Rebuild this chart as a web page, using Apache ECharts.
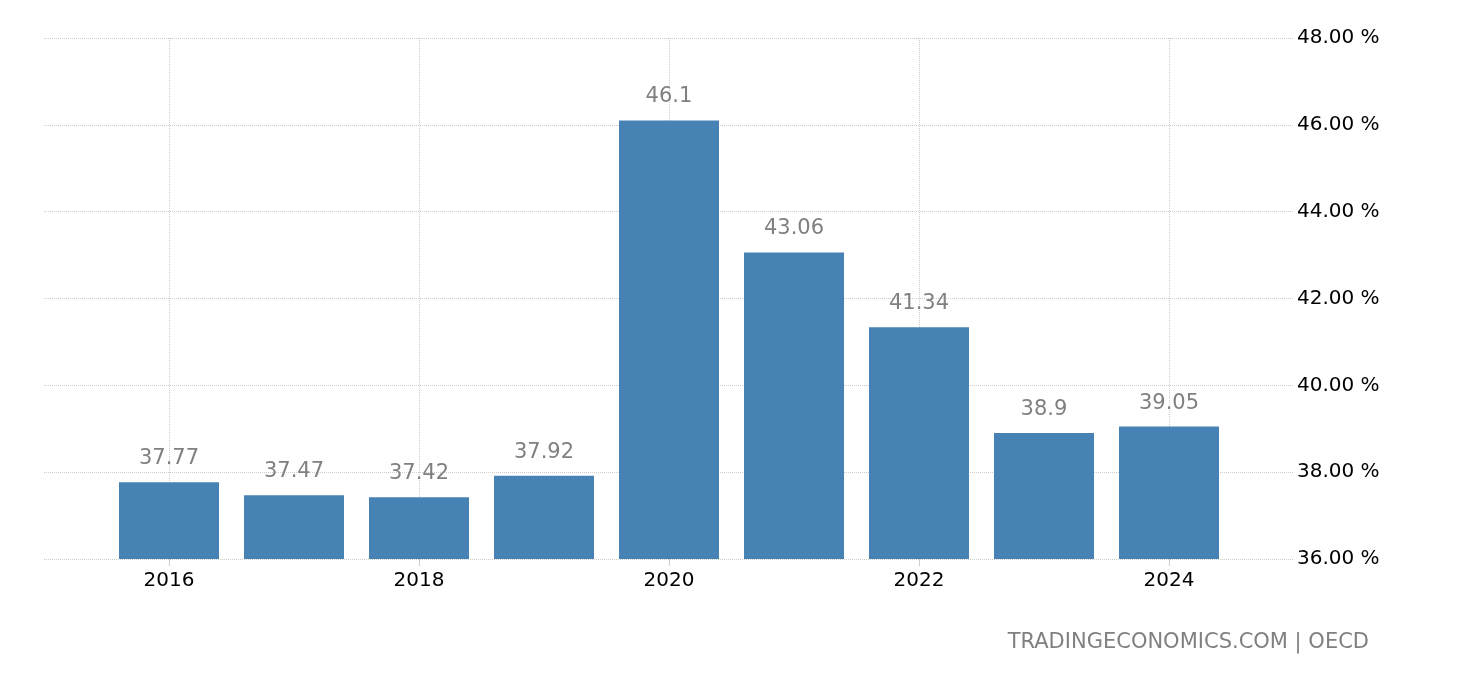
<!DOCTYPE html>
<html>
<head>
<meta charset="utf-8">
<script src="https://cdn.jsdelivr.net/npm/echarts@6/dist/echarts.min.js"></script>
<style>
  html, body { margin: 0; padding: 0; background: #fff; }
  #chart { width: 1460px; height: 680px; }
</style>
</head>
<body>
<div id="chart"></div>
<script>
// years and values
const years = ['2016', '2017', '2018', '2019', '2020', '2021', '2022', '2023', '2024'];
const values = [37.77, 37.47, 37.42, 37.92, 46.1, 43.06, 41.34, 38.9, 39.05];
const yTicks = { min: 36, max: 48, interval: 2 };
const source = 'TRADINGECONOMICS.COM | OECD';

// pad one empty slot on each side so the plot extends half a band past the bars
const axisYears = [String(+years[0] - 1), ...years, String(+years[years.length - 1] + 1)];
const axisValues = [null, ...values, null];
const showEven = (idx, name) => +name % 2 === 0;

const font = 'DejaVu Sans';
const chart = echarts.init(document.getElementById('chart'));

chart.setOption({
  animation: false,
  grid: { left: 44, right: 166, top: 38, bottom: 121 },
  xAxis: {
    type: 'category',
    data: axisYears,
    boundaryGap: false,
    axisLine: { show: false },
    axisTick: { show: true, interval: showEven, length: 7, lineStyle: { color: '#cccccc' } },
    axisLabel: { interval: showEven, margin: 12, color: '#000', fontFamily: font, fontSize: 20 },
    splitLine: { show: true, interval: showEven, lineStyle: { color: '#cccccc', type: 'dotted' } }
  },
  yAxis: {
    type: 'value',
    position: 'right',
    min: yTicks.min,
    max: yTicks.max,
    interval: yTicks.interval,
    axisLine: { show: false },
    axisTick: { show: false },
    axisLabel: {
      margin: 3,
      padding: [4, 0, 0, 0],
      color: '#000',
      fontFamily: font,
      fontSize: 20,
      formatter: v => v.toFixed(2) + ' %'
    },
    splitLine: { lineStyle: { color: '#cccccc', type: 'dotted' } }
  },
  series: [{
    type: 'bar',
    data: axisValues,
    barWidth: 100,
    itemStyle: { color: '#4682b4' },
    label: {
      show: true,
      position: 'top',
      distance: 13,
      color: '#808080',
      fontFamily: font,
      fontSize: 21
    }
  }],
  graphic: [{
    type: 'text',
    right: 91,
    top: 632,
    style: { text: source, fill: '#808080', font: '21px "DejaVu Sans"' }
  }]
});
</script>
</body>
</html>
